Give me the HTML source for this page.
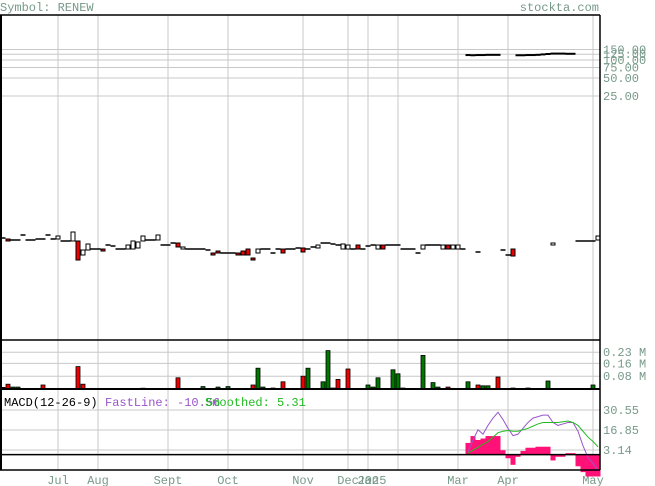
<!DOCTYPE html>
<html><head><meta charset="utf-8">
<style>
html,body{margin:0;padding:0;background:#fff;}
svg{display:block;font-family:"Liberation Mono",monospace;}
</style></head>
<body>
<svg id="chart" width="655" height="486" viewBox="0 0 655 486" xmlns="http://www.w3.org/2000/svg">
<text x="0" y="11" font-size="12" fill="#779988">Symbol: RENEW</text>
<text x="599" y="11" font-size="12" fill="#779988" text-anchor="end">stockta.com</text>
<g id="grid"></g>
<g id="marks"></g>
<g id="frame"></g>
</svg>
<script>
// ---- data ----
const months = ["Jul","Aug","Sept","Oct","Nov","Dec","Jan","","Mar","Apr","May"];
const monthIdx = [11,19,33,45,60,69,73,79,91,101,118];
const priceTicks = [150,125,100,75,50,25];
const volTicks = [0.23,0.16,0.08];
const macdTicks = [30.55,16.85,3.14];
const N = 120;
const opens = {0:0.1055,1:0.1015,2:0.0977,3:0.0977,4:0.1184,5:0.0977,6:0.0977,7:0.1015,8:0.1015,9:0.1184,10:0.1015,11:0.1015,12:0.094,13:0.094,14:0.094,15:0.094,16:0.0548,17:0.0664,18:0.069,19:0.069,20:0.069,21:0.0805,22:0.0775,23:0.069,24:0.069,25:0.069,26:0.069,27:0.0718,28:0.094,29:0.0977,30:0.0977,31:0.0977,32:0.0805,33:0.0805,34:0.087,35:0.087,36:0.069,37:0.069,38:0.069,39:0.069,40:0.069,41:0.0664,42:0.0592,43:0.0639,44:0.0592,45:0.0592,46:0.0592,47:0.0592,48:0.0639,49:0.069,50:0.0488,51:0.0592,52:0.069,53:0.069,54:0.0592,55:0.069,56:0.069,57:0.069,58:0.069,59:0.0718,60:0.0718,61:0.069,62:0.0746,63:0.0718,64:0.087,65:0.087,66:0.0837,67:0.0805,68:0.069,69:0.069,70:0.069,71:0.0805,72:0.069,73:0.0775,74:0.0805,75:0.069,76:0.0805,77:0.0805,78:0.0805,79:0.0805,80:0.069,81:0.069,82:0.069,83:0.0592,84:0.069,85:0.0805,86:0.0805,87:0.0805,88:0.069,89:0.0805,90:0.069,91:0.069,92:0.069,95:0.0615,100:0.0664,101:0.0548,102:0.069,110:0.0837,115:0.094,116:0.094,117:0.094,118:0.094,119:0.0977};
const closes = {1:0.0977,11:0.1139,14:0.1328,15:0.0452,16:0.0664,17:0.0837,20:0.0639,25:0.0805,26:0.094,27:0.0904,28:0.1139,31:0.1184,35:0.0746,36:0.0746,42:0.0548,43:0.0592,47:0.0548,48:0.0548,49:0.0548,50:0.0452,51:0.069,56:0.0592,60:0.0615,63:0.0805,68:0.0837,69:0.0805,71:0.069,75:0.0805,76:0.069,84:0.0805,88:0.0805,89:0.069,90:0.0805,91:0.0805,102:0.0527,110:0.087,119:0.1139};
const spikes = {93:121,94:120,95:121,96:121,97:122,98:122,99:122,103:120,104:120,105:121,106:121,107:122,108:124,109:126,110:128,111:128,112:128,113:127,114:127};
const volumes = {0:0.01,1:0.03,2:0.012,3:0.012,8:0.025,15:0.14,16:0.03,28:0.005,35:0.07,40:0.015,43:0.012,45:0.015,50:0.025,51:0.13,52:0.012,54:0.006,56:0.045,60:0.08,61:0.13,64:0.045,65:0.24,66:0.006,67:0.06,69:0.125,73:0.025,74:0.012,75:0.07,78:0.12,79:0.095,80:0.006,84:0.21,86:0.04,87:0.012,89:0.012,90:0.004,93:0.045,95:0.025,96:0.02,97:0.02,99:0.075,102:0.006,105:0.006,109:0.05,118:0.025};
const volUp = [2,3,28,40,43,45,51,52,61,64,65,73,74,75,78,79,84,86,87,93,96,97,105,109,118];
const macdStart = 93;
const fastLine = [2,10,17,14,20,25,29,24,18,13,14,18,22,25,26,27,27,22,20,21,22,22,16,6,-2,-6,-10.56];
const signalLine = [1,3,5,7,9,12,15,16,16.5,16,16,17,18,19.5,21,22,22,22,22,22.5,23,22,20,16,12,9,5.31];
const histogram = [8,12.7,10,11,12.7,12.7,12.7,3,-2.5,-7,-1.5,2.5,4.7,4.7,5.4,5.4,5.4,-4,-1.5,-1.5,1,1,-8,-12,-15,-15,-15];

// ---- scales ----
const X0 = 1, W = 599;
const xs = i => 3 + 5*i;
const yPrice = p => 60 - 18*Math.log2(p/100);
const yVol = v => 389 - v*160;
const yMacd = m => 454.6 - m*1.46;

const NS = "http://www.w3.org/2000/svg";
function mk(tag, attrs, parent){const e=document.createElementNS(NS,tag);for(const k in attrs)e.setAttribute(k,attrs[k]);parent.appendChild(e);return e;}
const grid = document.getElementById('grid'), marks = document.getElementById('marks'), frame = document.getElementById('frame');
const GC = "#c8c8c8", LC = "#779988";

// vertical grid + month labels
monthIdx.forEach((mi,k)=>{
  const x = xs(mi);
  const l = mk('line',{x1:x,x2:x,y1:15,y2:470,stroke:GC,'stroke-width':1},grid);
  
  
  if(months[k]){
    const t = mk('text',{x:x,y:484,'font-size':12,fill:LC,'text-anchor':'middle'},grid);
    t.textContent = months[k];
    
    
  }
});
{const t = mk('text',{x:372,y:484,'font-size':12,fill:LC,'text-anchor':'middle'},grid);t.textContent='2025';

}

priceTicks.forEach(p=>{
  const y = yPrice(p);
  const l = mk('line',{x1:1,x2:600,y1:y,y2:y,stroke:GC},grid);
  
  
  const t = mk('text',{x:603,y:y+4,'font-size':12,fill:LC},grid);
  t.textContent = p.toFixed(2);
  
  
});
volTicks.forEach(v=>{
  const y = yVol(v);
  const l = mk('line',{x1:1,x2:600,y1:y,y2:y,stroke:GC},grid);
  
  
  const t = mk('text',{x:603,y:y+4,'font-size':12,fill:LC},grid);
  t.textContent = v.toFixed(2)+' M';
  
  
});
macdTicks.forEach(m=>{
  const y = yMacd(m);
  const l = mk('line',{x1:1,x2:600,y1:y,y2:y,stroke:GC},grid);
  
  
  const t = mk('text',{x:603,y:y+4,'font-size':12,fill:LC},grid);
  t.textContent = m.toFixed(2);
  
  
});

// candles
for(let i=0;i<N;i++){
  if(opens[i]===undefined) continue;
  const o = opens[i], c = closes[i]!==undefined ? closes[i] : o;
  const x = xs(i);
  if(o===c){
    const y = Math.round(yPrice(o));
    const l = mk('line',{x1:x-2.5,x2:x+2.5,y1:y,y2:y,stroke:'#000','stroke-width':1.5},marks);
    
    
  } else {
    const y1 = yPrice(Math.max(o,c)), y2 = yPrice(Math.min(o,c));
    const r = mk('rect',{x:x-2,y:y1,width:4,height:Math.max(2,y2-y1),fill:c>o?'#fff':'#ee0000',stroke:'#000','stroke-width':1},marks);
    
    
  }
}
for(const k in spikes){
  const y = yPrice(spikes[k]); const x = xs(+k);
  const l = mk('line',{x1:x-2.5,x2:x+2.5,y1:y,y2:y,stroke:'#000','stroke-width':2},marks);
  
  
}

// volume
for(const k in volumes){
  const i=+k, v=volumes[k], x=xs(i), y=yVol(v);
  const up = volUp.includes(i);
  const r = mk('rect',{x:x-2,y:y,width:4,height:389-y,fill:up?'#007700':'#ee0000',stroke:'#000','stroke-width':0.8},marks);
  
  
}

// macd histogram
histogram.forEach((h,j)=>{
  const x = xs(macdStart+j)-2.5, y0 = yMacd(0), y = yMacd(h);
  const r = mk('rect',{x:x,y:Math.min(y,y0),width:5,height:Math.abs(y-y0),fill:'#ff1177'},marks);
  
  
});
function poly(arr,color,name){
  const pts = arr.map((v,j)=>xs(macdStart+j)+','+yMacd(v)).join(' ');
  const p = mk('polyline',{points:pts,fill:'none',stroke:color,'stroke-width':1},marks);
  
  
}
poly(fastLine,'#9955cc','macd-fast-line');
poly(signalLine,'#22bb22','macd-signal-line');

// frame
[[0,15,600,15,1.5],[1,15,1,470,2],[600,15,600,470,1.5],[0,340,600,340,1.5],[0,389,600,389,2],[0,454.6,600,454.6,1.5],[0,470,600,470,1.5]].forEach(a=>{
  const l = mk('line',{x1:a[0],y1:a[1],x2:a[2],y2:a[3],stroke:'#000','stroke-width':a[4]},frame);
  
  
});
{
  const t = mk('text',{x:4,y:406,'font-size':12,fill:'#000'},frame); t.textContent='MACD(12-26-9)';
  
  
  const f = mk('text',{x:105,y:406,'font-size':12,fill:'#9955cc'},frame); f.textContent='FastLine: -10.56';
  
  
  const s = mk('text',{x:205,y:406,'font-size':12,fill:'#22bb22'},frame); s.textContent='Smoothed: 5.31';
  
  
}
</script>
</body></html>
